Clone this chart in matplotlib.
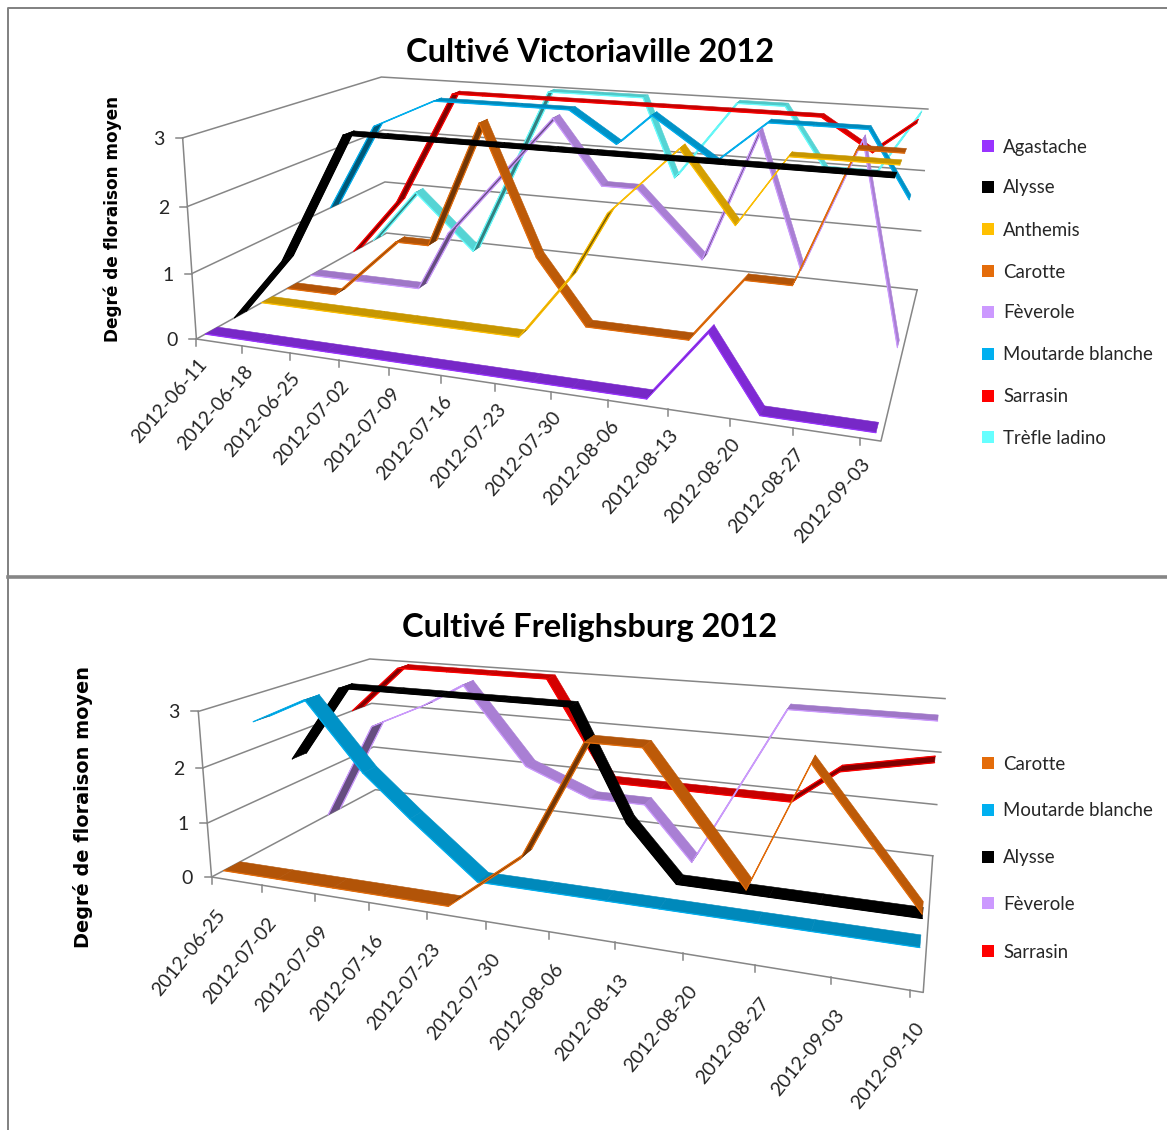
import numpy as np
import matplotlib
matplotlib.use("Agg")
import matplotlib.pyplot as plt

# Victoriaville, days counted from 2012-06-11
days_vic = [0, 8, 18, 23, 31, 39, 46, 51, 60, 67, 73, 80, 85.5]
labels_vic = ['2012-06-11', '2012-06-18', '2012-06-25', '2012-07-02', '2012-07-09', '2012-07-16', '2012-07-23',
              '2012-07-30', '2012-08-06', '2012-08-13', '2012-08-20', '2012-08-27', '2012-09-03']
names_vic = ['Agastache', 'Alysse', 'Anthemis', 'Carotte', 'Fèverole', 'Moutarde blanche', 'Sarrasin', 'Trèfle ladino']
agastache_vic = [0, 0, 0, 0, 0, 0, 0, 0, 0, 1, 0, 0, 0]
alysse_vic = [0, 1, 3, 3, 3, 3, 3, 3, 3, 3, 3, 3, 3]
anthemis_vic = [0, 0, 0, 0, 0, 0, 1, 2, 3, 2, 3, 3, 3]
carotte_vic = [0, 0, 1, 1, 3, 1, 0, 0, 0, 1, 1, 3, 3]
feverole_vic = [0, 0, 0, 1, 2, 3, 2, 2, 1, 3, 1, 3, 0]
moutarde_vic = [1, 2.5, 3, 3, 3, 3, 2.5, 3, 2.33, 3, 3, 3, 2]
sarrasin_vic = [0, 1, 3, 3, 3, 3, 3, 3, 3, 3, 3, 2.5, 3]
trefle_vic = [0, 1, 0, 1.15, 3, 3, 3, 1.67, 3, 3, 2, 2, 3]

# Frelighsburg, days counted from 2012-06-25
days_fre = [0, 7.5, 15, 21, 29.5, 38, 45, 51, 61.5, 67, 77.5]
labels_fre = ['2012-06-25', '2012-07-02', '2012-07-09', '2012-07-16', '2012-07-23', '2012-07-30',
              '2012-08-06', '2012-08-13', '2012-08-20', '2012-08-27', '2012-09-03', '2012-09-10']
names_fre = ['Carotte', 'Moutarde blanche', 'Alysse', 'Fèverole', 'Sarrasin']
carotte_fre = [0, 0, 0, 0, 0, 1, 3, 3, 1, 3, 1]
moutarde_fre = [2.5, 3, 1.75, 1, 0, 0, 0, 0, 0, 0, 0]
alysse_fre = [1.5, 3, 3, 3, 3, 3, 1, 0, 0, 0, 0]
feverole_fre = [0, 2, 2.5, 3, 1.5, 1, 1, 0, 3, 3, 3]
sarrasin_fre = [2, 3, 3, 3, 3, 1, 1, 1, 1, 1.67, 2]

colors = {'Agastache': '#9933FF', 'Alysse': '#000000', 'Anthemis': '#FFC000', 'Carotte': '#E46C0A',
          'Fèverole': '#CC99FF', 'Moutarde blanche': '#00B0F0', 'Sarrasin': '#FF0000', 'Trèfle ladino': '#66FFFF'}

GRID = '#868686'
TEXT = '#262626'
SANS = ['Lato', 'DejaVu Sans']


def fit_camera(pix):
    # 3x4 perspective matrix from the chart box corners (day, depth, value)
    world = [(0, 0, 0), (1, 0, 0), (1, 1, 0), (0, 1, 0), (0, 0, 1), (0, 1, 1), (1, 1, 1)]
    A, b = [], []
    for (u, v, z), (px, py) in zip(world, pix):
        A.append([u, v, z, 1, 0, 0, 0, 0, -px * u, -px * v, -px * z])
        A.append([0, 0, 0, 0, u, v, z, 1, -py * u, -py * v, -py * z])
        b += [px, py]
    p = np.linalg.lstsq(np.array(A, float), np.array(b, float), rcond=None)[0]
    return np.append(p, 1).reshape(3, 4)


def project(cam, u, v, z):
    x, y, w = cam @ np.array([u, v, z, 1.0])
    return x / w, y / w


def shade(color, k):
    return np.array(matplotlib.colors.to_rgb(color)) * k


def draw_box(ax, cam, span, labels, lab_dx, lab_dy, lab_rot, ymax=3):
    for val in range(ymax + 1):
        z = val / ymax
        pts = [project(cam, 0, 0, z), project(cam, 0, 1, z), project(cam, 1, 1, z)]
        ax.plot(*zip(*pts), color=GRID, lw=1.1, zorder=1)
        x0, y0 = pts[0]
        ax.plot([x0 - 7, x0], [y0, y0], color=GRID, lw=1.1, zorder=1)
        ax.text(x0 - 24, y0 + 1.5, str(val), ha='center', va='center', fontsize=14, color=TEXT, family=SANS)
    outline = [project(cam, 0, 0, 1), project(cam, 0, 0, 0), project(cam, 1, 0, 0), project(cam, 1, 1, 0)]
    ax.plot(*zip(*outline), color=GRID, lw=1.1, zorder=1)
    for i, lab in enumerate(labels):
        x0, y0 = project(cam, i * 7 / span, 0, 0)
        ax.plot([x0, x0], [y0, y0 + 7], color=GRID, lw=1.1, zorder=1)
        ax.text(x0 + lab_dx, y0 + lab_dy, lab, rotation=lab_rot, ha='right', va='top', rotation_mode='anchor',
                fontsize=14, color=TEXT, family=SANS)


def draw_ribbons(ax, cam, days, span, names, series, width=0.42):
    n = len(names)
    # back series first so the front ones cover them
    for i in range(n - 1, -1, -1):
        col = colors[names[i]]
        vals = series[i]
        v0 = (i + 0.5 - width / 2) / n
        v1 = (i + 0.5 + width / 2) / n
        for j in range(len(days) - 1):
            u0, u1 = days[j] / span, days[j + 1] / span
            z0, z1 = vals[j] / 3, vals[j + 1] / 3
            slope = (vals[j + 1] - vals[j]) / (days[j + 1] - days[j])
            if slope > 0.02:
                k = 0.5
            elif slope < -0.02:
                k = 0.83
            else:
                k = 0.78
            quad = [project(cam, u0, v0, z0), project(cam, u1, v0, z1),
                    project(cam, u1, v1, z1), project(cam, u0, v1, z0)]
            ax.fill(*zip(*quad), facecolor=shade(col, k), edgecolor=shade(col, k), lw=0.4, zorder=2)
            ax.plot(*zip(quad[0], quad[1]), color=col, lw=0.9, zorder=2, solid_capstyle='round')
            if slope > 0.02:
                ax.plot(*zip(quad[3], quad[2]), color=col, lw=0.9, zorder=2, solid_capstyle='round')


def draw_legend(ax, names, ys):
    for name, y in zip(names, ys):
        ax.plot([988], [y], marker='s', ms=8.6, mew=0, color=colors[name], zorder=3)
        ax.text(1003, y + 1, name, ha='left', va='center', fontsize=13.4, color=TEXT, family=SANS)


fig = plt.figure(figsize=(11.67, 11.3), dpi=100)
ax = fig.add_axes([0, 0, 1, 1])
ax.set_xlim(0, 1167)
ax.set_ylim(1130, 0)
ax.axis('off')

# sheet frame
ax.plot([1167, 8, 8], [8, 8, 1130], color='#808080', lw=1.4)
ax.plot([8, 1167], [576.5, 576.5], color='#868686', lw=2.6)

cam_vic = fit_camera([(196, 339), (881, 441), (917, 290), (387, 233), (183, 138), (381, 77), (928, 109)])
span_vic = 86.2
draw_box(ax, cam_vic, span_vic, labels_vic, 1, 17, 49)
draw_ribbons(ax, cam_vic, days_vic, span_vic, names_vic,
             [agastache_vic, alysse_vic, anthemis_vic, carotte_vic, feverole_vic, moutarde_vic, sarrasin_vic, trefle_vic])
draw_legend(ax, names_vic, [146, 187, 229, 271, 312, 354, 396, 437])
ax.text(590, 53, 'Cultivé Victoriaville 2012', ha='center', va='center', fontsize=23.5, fontweight='bold',
        family='Lato', color='black')
ax.text(113, 219, 'Degré de floraison moyen', rotation=90, ha='center', va='center', fontsize=12.2,
        fontweight='bold', family='DejaVu Sans', color='black')

cam_fre = fit_camera([(212, 877), (923, 993), (933, 855), (375, 790), (198, 711), (370, 659), (945, 699)])
span_fre = 78.1
draw_box(ax, cam_fre, span_fre, labels_fre, 4, 29, 51)
draw_ribbons(ax, cam_fre, days_fre, span_fre, names_fre,
             [carotte_fre, moutarde_fre, alysse_fre, feverole_fre, sarrasin_fre])
draw_legend(ax, names_fre, [763, 810, 857, 903, 951])
ax.text(590, 628, 'Cultivé Frelighsburg 2012', ha='center', va='center', fontsize=23.5, fontweight='bold',
        family='Lato', color='black')
ax.text(83, 807, 'Degré de floraison moyen', rotation=90, ha='center', va='center', fontsize=13.9,
        fontweight='bold', family='DejaVu Sans', color='black')

fig.savefig('out.png', dpi=100)
